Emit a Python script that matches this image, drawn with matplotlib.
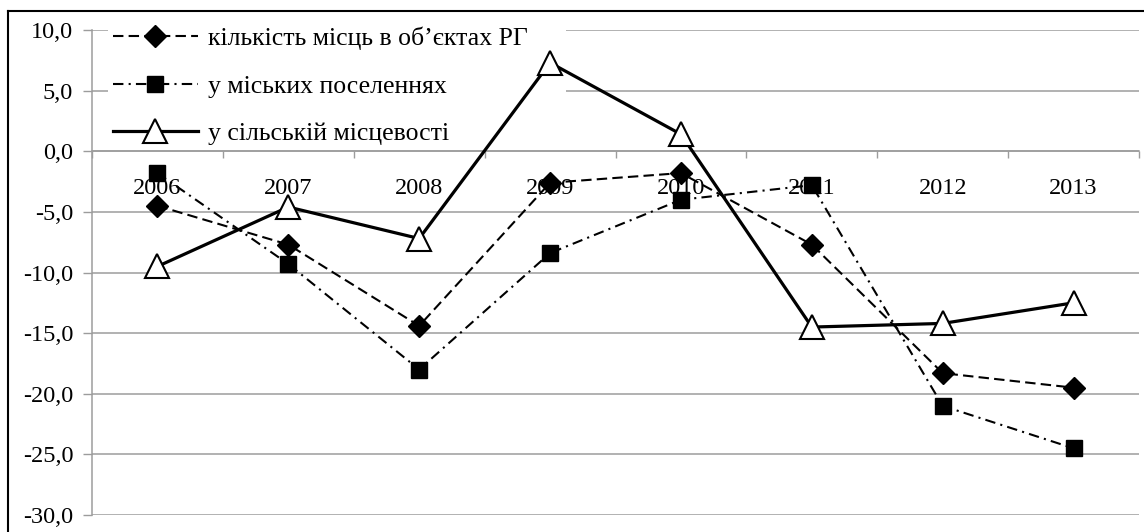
import matplotlib
matplotlib.use("Agg")
import matplotlib.pyplot as plt
from matplotlib.lines import Line2D
import numpy as np

years = ["2006", "2007", "2008", "2009", "2010", "2011", "2012", "2013"]
places_total = [-4.5, -7.7, -14.4, -2.6, -1.8, -7.7, -18.3, -19.5]
urban = [-1.8, -9.3, -18.0, -8.4, -4.0, -2.8, -21.0, -24.5]
rural = [-9.5, -4.6, -7.2, 7.3, 1.4, -14.5, -14.2, -12.5]
labels = ["кількість місць в об’єктах РГ", "у міських поселеннях", "у сільській місцевості"]
yticks = [-30, -25, -20, -15, -10, -5, 0, 5, 10]

plt.rcParams['font.family'] = ['Liberation Serif', 'DejaVu Serif']
grey = "#9c9c9c"
fs = 17.5

fig = plt.figure(figsize=(11.44, 5.32), dpi=100)
ax = fig.add_axes([92/1144, 1-515/532, (1139-92)/1144, (515-30)/532])
x = np.arange(len(years))

ax.plot(x, places_total, color="black", lw=1.5, linestyle=(0, (5, 2.5)),
        marker="D", ms=11.5, mfc="black", mec="black", label=labels[0], zorder=3)
ax.plot(x, urban, color="black", lw=1.5, linestyle=(0, (5, 2.5, 1, 2.5)),
        marker="s", ms=11, mfc="black", mec="black", label=labels[1], zorder=3)
ax.plot(x, rural, color="black", lw=2.3, linestyle="-",
        marker="^", ms=17, mfc="white", mec="black", mew=1.5, label=labels[2], zorder=4)

ax.set_xlim(-0.5, 7.5)
ax.set_ylim(-30, 10)
ax.set_yticks(yticks)
ax.set_yticklabels([f"{v:.1f}".replace(".", ",") for v in yticks])
ax.set_xticks(x)
ax.set_xticklabels(years)
ax.set_xticks(np.arange(-0.5, 8, 1), minor=True)
ax.tick_params(axis="x", which="major", length=0, pad=19, labelsize=fs)
ax.tick_params(axis="x", which="minor", length=5, color=grey, width=1)
ax.tick_params(axis="y", length=6.5, color=grey, width=1, pad=7, labelsize=fs)

ax.set_axisbelow(True)
ax.yaxis.grid(True, color=grey, lw=1.1)
for s in ["top", "right"]:
    ax.spines[s].set_visible(False)
ax.spines["bottom"].set_position(("data", 0))
ax.spines["bottom"].set_color(grey)
ax.spines["left"].set_color(grey)
ax.spines["bottom"].set_linewidth(1.1)
ax.spines["left"].set_linewidth(1.1)

leg = fig.legend(loc="upper left", bbox_to_anchor=(95/1144, 1-14/532, (579-95)/1144, 0.01),
                 mode="expand", fontsize=18.5, frameon=True, fancybox=False,
                 handlelength=3.3, handletextpad=0.4, labelspacing=0.95, borderpad=0.2)
leg.get_frame().set_facecolor("white")
leg.get_frame().set_edgecolor("none")
leg.get_frame().set_alpha(1)
leg.remove()
ax.add_artist(leg)
leg.set_zorder(1)

# outer frame: only left and top edges fall inside the picture
fx = 7.5 / 1144
fy = 1 - 11 / 532
fig.add_artist(Line2D([fx, fx], [0, fy], transform=fig.transFigure, color="black", lw=1.5))
fig.add_artist(Line2D([fx, 1], [fy, fy], transform=fig.transFigure, color="black", lw=1.5))

fig.savefig("out.png", dpi=100)
